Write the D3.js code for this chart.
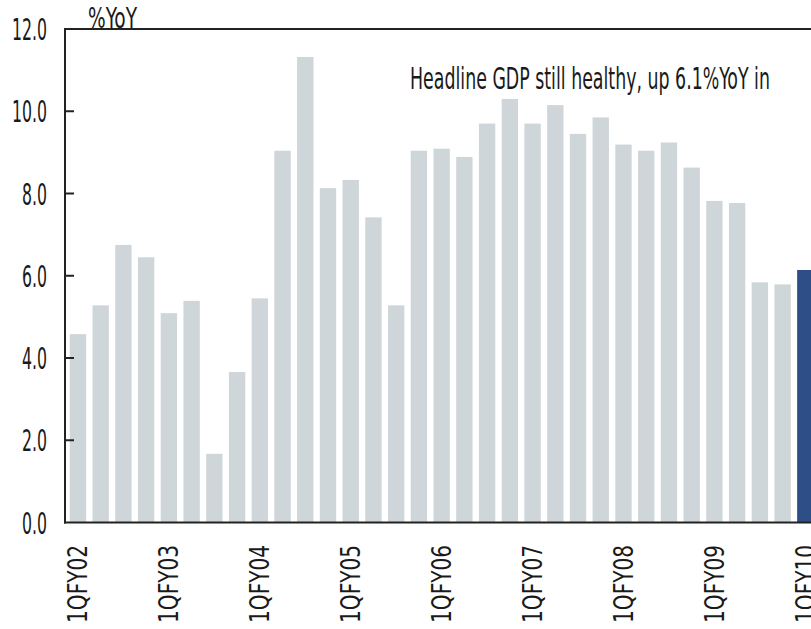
<!DOCTYPE html>
<html>
<head>
<meta charset="utf-8">
<script src="https://cdn.jsdelivr.net/npm/d3@7/dist/d3.min.js"></script>
<style>
  html, body { margin: 0; padding: 0; background: #fff; }
  svg { display: block; }
  text { font-family: "Liberation Sans Narrow", "DejaVu Sans Condensed", "Arial Narrow", sans-serif; fill: #1a1a1a; }
</style>
</head>
<body>
<svg id="chart" width="811" height="629"></svg>
<script>
// ---- data ----
const categories = [
  "1QFY02","2QFY02","3QFY02","4QFY02",
  "1QFY03","2QFY03","3QFY03","4QFY03",
  "1QFY04","2QFY04","3QFY04","4QFY04",
  "1QFY05","2QFY05","3QFY05","4QFY05",
  "1QFY06","2QFY06","3QFY06","4QFY06",
  "1QFY07","2QFY07","3QFY07","4QFY07",
  "1QFY08","2QFY08","3QFY08","4QFY08",
  "1QFY09","2QFY09","3QFY09","4QFY09",
  "1QFY10"
];
const gdpYoY = [
  4.58, 5.28, 6.75, 6.45,
  5.09, 5.39, 1.67, 3.66,
  5.45, 9.04, 11.32, 8.13,
  8.33, 7.42, 5.28, 9.04,
  9.09, 8.89, 9.70, 10.30,
  9.70, 10.15, 9.45, 9.85,
  9.19, 9.04, 9.24, 8.63,
  7.82, 7.77, 5.84, 5.79,
  6.14
];
const highlighted = ["1QFY10"];
const xTickLabels = ["1QFY02","1QFY03","1QFY04","1QFY05","1QFY06","1QFY07","1QFY08","1QFY09","1QFY10"];
const yTicks = [0, 2, 4, 6, 8, 10, 12];
const yUnit = "%YoY";
const annotation = "Headline GDP still healthy, up 6.1%YoY in";

// ---- layout ----
const svg = d3.select("#chart");
const mLeft = 65, mTop = 29, mBottom = 522.5;
const n = categories.length;
const step = 22.73;
const x = d3.scaleBand()
  .domain(categories)
  .range([66.6, 66.6 + n * step])
  .paddingInner(0.28)
  .paddingOuter(0.14);
const y = d3.scaleLinear().domain([0, 12]).range([mBottom, mTop]);

const colGrey = "#cfd6d9";
const colBlue = "#2e4e88";

// bars
svg.append("g").selectAll("rect")
  .data(categories)
  .join("rect")
  .attr("x", d => x(d))
  .attr("width", x.bandwidth())
  .attr("y", (d, i) => y(gdpYoY[i]))
  .attr("height", (d, i) => y(0) - y(gdpYoY[i]))
  .attr("fill", d => highlighted.includes(d) ? colBlue : colGrey);

// axes lines
const ax = svg.append("g").attr("stroke", "#222").attr("stroke-width", 2);
ax.append("line").attr("x1", mLeft).attr("x2", mLeft).attr("y1", y(12)).attr("y2", y(0) + 1);
ax.append("line").attr("x1", mLeft - 1).attr("x2", 811).attr("y1", y(0)).attr("y2", y(0));
ax.append("line").attr("x1", mLeft - 1).attr("x2", 811).attr("y1", y(12)).attr("y2", y(12));
// inward ticks
ax.selectAll(".tk").data(yTicks.filter(t => t > 0 && t < 12)).join("line")
  .attr("x1", mLeft).attr("x2", mLeft + 9)
  .attr("y1", d => y(d)).attr("y2", d => y(d));

// measure natural width of a string at a size (to emulate the condensed face)
function measure(str, size) {
  const t = svg.append("text").attr("font-size", size).text(str);
  const w = t.node().getComputedTextLength();
  t.remove();
  return w;
}
function ctext(g, str, px, py, size, sx, anchor, rotate) {
  return g.append("text")
    .attr("transform", `translate(${px},${py})` + (rotate ? ` rotate(${rotate})` : "") + ` scale(${sx},1)`)
    .attr("font-size", size)
    .attr("text-anchor", anchor || "start")
    .text(str);
}

// y labels
const ySize = 30, ySx = 35 / measure("12.0", ySize);
const gy = svg.append("g");
yTicks.forEach(t => {
  ctext(gy, d3.format(".1f")(t), 47, y(t) + 11, ySize, ySx, "end");
});

// unit label
const uSize = 28;
ctext(svg.append("g"), yUnit, 88, 28, uSize, 49 / measure(yUnit, uSize), "start");

// x labels (rotated)
const xSize = 26, xSx = 78 / measure("1QFY02", xSize);
const gx = svg.append("g");
xTickLabels.forEach(c => {
  const cx = x(c) + x.bandwidth() / 2;
  ctext(gx, c, cx + 9.5, 545, xSize, xSx, "end", -90);
});

// annotation
const aSize = 31;
ctext(svg.append("g"), annotation, 410, 89, aSize, 360 / measure(annotation, aSize), "start");
</script>
</body>
</html>
